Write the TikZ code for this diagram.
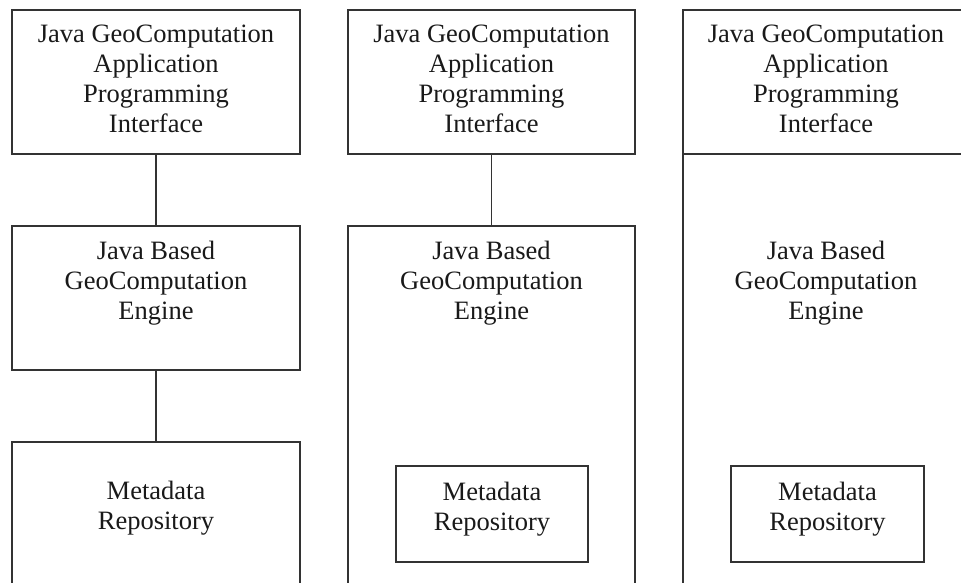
\documentclass[tikz,border=0pt]{standalone}
\usepackage{fontspec}
\setmainfont{Liberation Serif}
\begin{document}
\begin{tikzpicture}[x=1pt,y=-1pt,
  box/.style={draw=black!80, line width=1.8pt, inner sep=0pt, outer sep=0pt, anchor=north west},
  lbl/.style={align=center, inner sep=0pt, font=\fontsize{26.5}{30}\selectfont, text=black!90},
  link/.style={draw=black!80, line width=1.8pt}]
\useasboundingbox (0,0) rectangle (961,583);
\clip (0,0) rectangle (961,583);

% column 1: three separate layers joined by lines
\node[box, minimum width=288pt, minimum height=144pt] (api1) at (12,10) {};
\node[box, minimum width=288pt, minimum height=144pt] (eng1) at (12,226) {};
\node[box, minimum width=288pt, minimum height=180pt] (meta1) at (12,442) {};
\draw[link] (api1.south) -- (eng1.north);
\draw[link] (eng1.south) -- (meta1.north);
\node[lbl] (api1t) at (156,79) {Java GeoComputation\\Application\\Programming\\Interface};
\node[lbl] (eng1t) at (156,283.5) {Java Based\\GeoComputation\\Engine};
\node[lbl] (meta1t) at (156,508) {Metadata\\Repository};

% column 2: repository embedded in the engine
\node[box, minimum width=287pt, minimum height=144pt] (api2) at (348,10) {};
\node[box, minimum width=287pt, minimum height=394pt] (eng2) at (348,226) {};
\node[box, minimum width=192pt, minimum height=96pt] (meta2) at (396,466) {};
\draw[link] (api2.south) -- (eng2.north);
\node[lbl] (api2t) at (491.5,79) {Java GeoComputation\\Application\\Programming\\Interface};
\node[lbl] (eng2t) at (491.5,283.5) {Java Based\\GeoComputation\\Engine};
\node[lbl] (meta2t) at (492,509) {Metadata\\Repository};

% column 3: interface stacked directly on the engine
\node[box, minimum width=287pt, minimum height=144pt] (api3) at (683,10) {};
\node[box, minimum width=287pt, minimum height=466pt] (eng3) at (683,154) {};
\node[box, minimum width=193pt, minimum height=96pt] (meta3) at (731,466) {};
\node[lbl] (api3t) at (826,79) {Java GeoComputation\\Application\\Programming\\Interface};
\node[lbl] (eng3t) at (826,283.5) {Java Based\\GeoComputation\\Engine};
\node[lbl] (meta3t) at (827.5,509) {Metadata\\Repository};
\end{tikzpicture}
\end{document}
